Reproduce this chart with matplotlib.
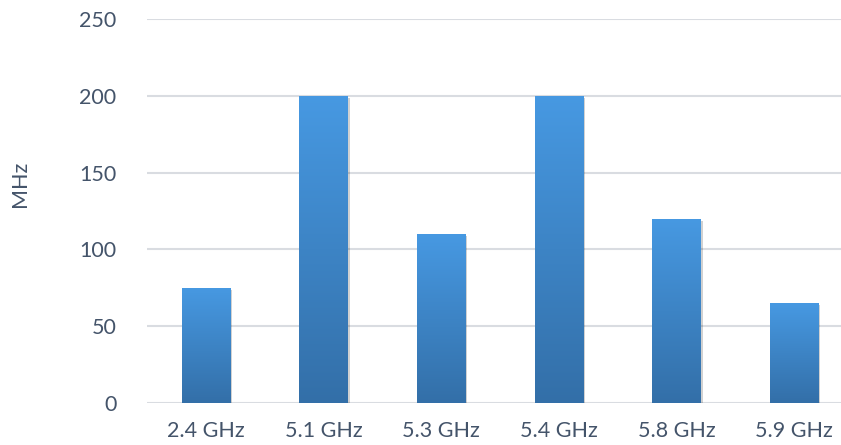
import numpy as np
import matplotlib
matplotlib.use("Agg")
import matplotlib.pyplot as plt
import matplotlib.patheffects as pe
from matplotlib.colors import LinearSegmentedColormap

bands = ["2.4 GHz", "5.1 GHz", "5.3 GHz", "5.4 GHz", "5.8 GHz", "5.9 GHz"]
bandwidth_mhz = [75, 200, 110, 200, 120, 65]
y_ticks = [0, 50, 100, 150, 200, 250]

TEXT = "#44546a"
GRID = "#d9dce1"
BAR_WIDTH = 0.41

plt.rcParams["font.family"] = ["Lato", "DejaVu Sans"]

fig = plt.figure(figsize=(8.41, 4.45), dpi=100)
ax = fig.add_axes([0.1748, 0.0944, 0.8395, 0.863])

x = np.arange(len(bands))
bars = ax.bar(x, bandwidth_mhz, width=BAR_WIDTH, color="none", zorder=3)

# vertical gradient fill, darker at the base
grad = LinearSegmentedColormap.from_list("bar", ["#336fa8", "#4799e2"])
ramp = np.linspace(0, 1, 256).reshape(-1, 1)
for rect in bars:
    x0, w, h = rect.get_x(), rect.get_width(), rect.get_height()
    shadow = plt.Rectangle((x0, 0), w, h, facecolor="none", edgecolor="none", zorder=2)
    shadow.set_path_effects([pe.SimplePatchShadow(offset=(1.5, -1.5), shadow_rgbFace="#000000", alpha=0.18)])
    ax.add_patch(shadow)
    im = ax.imshow(ramp, cmap=grad, origin="lower", aspect="auto",
                   extent=(x0, x0 + w, 0, h), zorder=3)
    im.set_clip_path(rect)

ax.set_xlim(-0.5, len(bands) - 0.5)
ax.set_ylim(0, 250)
ax.set_yticks(y_ticks)
ax.set_xticks(x)
ax.set_xticklabels(bands)
ax.grid(axis="y", color=GRID, linewidth=1.5, zorder=0)
ax.set_axisbelow(True)
for side in ("top", "right", "left", "bottom"):
    ax.spines[side].set_visible(False)
ax.tick_params(length=0, labelsize=15.5, colors=TEXT)
ax.tick_params(axis="y", pad=22)
ax.tick_params(axis="x", pad=13)
ax.set_ylabel("MHz", fontsize=15.5, color=TEXT, va="center")
ax.yaxis.set_label_coords(-0.18, 0.57)

fig.savefig("out.png", dpi=100)
